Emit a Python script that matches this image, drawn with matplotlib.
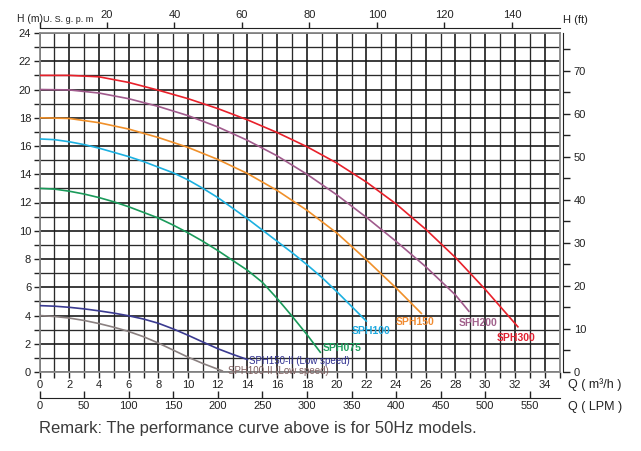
import matplotlib.pyplot as plt
from matplotlib.ticker import MultipleLocator

plt.rcParams['font.family'] = ['Liberation Sans', 'DejaVu Sans']

# flow Q (m3/h) and head H (m)
q_300 = [0, 2, 4, 6, 8, 10, 12, 14, 16, 18, 20, 22, 24, 26, 28, 30, 32.2]
h_300 = [21.0, 21.0, 20.9, 20.5, 19.95, 19.35, 18.65, 17.85, 16.95, 15.95, 14.8, 13.45, 11.9, 10.1, 8.1, 5.85, 3.2]

q_200 = [0, 2, 4, 6, 8, 10, 12, 14, 16, 18, 20, 22, 24, 26, 28, 28.9]
h_200 = [20.0, 19.97, 19.75, 19.35, 18.8, 18.15, 17.35, 16.4, 15.3, 14.0, 12.55, 10.95, 9.25, 7.45, 5.45, 4.3]

q_150 = [0, 2, 4, 6, 8, 10, 12, 14, 16, 18, 20, 22, 24, 25.7]
h_150 = [18.0, 17.95, 17.65, 17.2, 16.6, 15.9, 15.05, 14.05, 12.85, 11.45, 9.85, 7.95, 5.95, 4.15]

q_100 = [0, 1, 2, 3, 4, 5, 6, 7, 8, 9, 10, 11, 12, 13, 14, 15, 16, 17, 18, 19, 20, 21, 22]
h_100 = [16.5, 16.45, 16.3, 16.1, 15.85, 15.55, 15.25, 14.9, 14.5, 14.1, 13.6, 13.0, 12.35,
         11.6, 10.85, 10.05, 9.25, 8.45, 7.6, 6.7, 5.7, 4.65, 3.6]

q_075 = [0, 1, 2, 3, 4, 5, 6, 7, 8, 9, 10, 11, 12, 13, 14, 15, 16, 17, 18, 18.9]
h_075 = [13.0, 12.95, 12.8, 12.6, 12.35, 12.05, 11.7, 11.3, 10.9, 10.4, 9.85, 9.25, 8.6,
         7.9, 7.2, 6.35, 5.2, 3.95, 2.65, 1.4]

q_150ii = [0, 1, 2, 3, 4, 5, 6, 7, 8, 9, 10, 11, 12, 13, 14]
h_150ii = [4.7, 4.66, 4.58, 4.47, 4.33, 4.17, 3.98, 3.75, 3.45, 3.05, 2.6, 2.12, 1.65, 1.25, 0.88]

q_100ii = [0, 1, 2, 3, 4, 5, 6, 7, 8, 9, 10, 11, 12, 12.3]
h_100ii = [4.0, 3.93, 3.82, 3.65, 3.43, 3.17, 2.87, 2.5, 2.05, 1.55, 1.05, 0.6, 0.2, 0.08]

fig = plt.figure(figsize=(6.41, 4.51), dpi=100)
ax = fig.add_axes([39.5 / 641, 79 / 451, 520 / 641, 339 / 451])

ax.plot(q_300, h_300, color='#e8202a', lw=1.2, zorder=3)
ax.plot(q_200, h_200, color='#a05a8c', lw=1.2, zorder=3)
ax.plot(q_150, h_150, color='#f0902a', lw=1.2, zorder=3)
ax.plot(q_100, h_100, color='#1cb0e0', lw=1.2, zorder=3)
ax.plot(q_075, h_075, color='#1a9a5a', lw=1.2, zorder=3)
ax.plot(q_150ii, h_150ii, color='#3a3a90', lw=1.2, zorder=3)
ax.plot(q_100ii, h_100ii, color='#8a8080', lw=1.2, zorder=3)

lab = dict(fontsize=7.5, fontweight='bold', ha='center', va='center', zorder=4)
ax.text(32.1, 2.4, 'SPH300', color='#e02030', **lab)
ax.text(29.5, 3.5, 'SPH200', color='#a0608a', **lab)
ax.text(25.3, 3.55, 'SPH150', color='#f08a30', **lab)
ax.text(22.3, 2.9, 'SPH100', color='#20aae0', **lab)
ax.text(20.4, 1.7, 'SPH075', color='#20a060', **lab)
ax.text(14.1, 0.8, 'SPH150-II (Low speed)', color='#303090', fontsize=7,
        ha='left', va='center', zorder=4)
ax.text(12.7, 0.1, 'SPH100-II (Low speed)', color='#806060', fontsize=7,
        ha='left', va='center', zorder=4)

ax.set_xlim(0, 35)
ax.set_ylim(0, 24)
ax.set_xticks(range(0, 35, 2))
ax.xaxis.set_minor_locator(MultipleLocator(1))
ax.set_yticks(range(0, 25, 2))
ax.yaxis.set_minor_locator(MultipleLocator(1))
ax.tick_params(which='both', direction='out', length=4, width=1, colors='#222',
               labelsize=8, pad=2)
ax.grid(which='major', color='#1a1a1a', lw=1.2, zorder=0)
ax.grid(which='minor', color='#2a2a2a', lw=0.95, zorder=0)
ax.set_axisbelow(True)
for s in ax.spines.values():
    s.set_color('#888')
    s.set_linewidth(1.3)

# U.S. gpm on top
top = ax.secondary_xaxis(1 + 5 / 339, functions=(lambda q: q * 4.4029, lambda g: g / 4.4029))
top.set_xticks(range(0, 160, 20))
top.set_xticklabels([''] + [str(v) for v in range(20, 160, 20)])
top.tick_params(direction='out', length=4, width=1, colors='#222', labelsize=8, pad=2)
top.spines['top'].set_color('#222')

# LPM below
lpm = ax.secondary_xaxis(-26 / 339, functions=(lambda q: q * 1000 / 60, lambda l: l * 60 / 1000))
lpm.set_xticks(range(0, 600, 50))
lpm.tick_params(direction='in', length=5, width=1, colors='#222', labelsize=8, pad=2)
lpm.spines['bottom'].set_color('#222')

# H in feet on the right
rgt = ax.secondary_yaxis(1 + 3 / 520, functions=(lambda h: h / 0.3048, lambda f: f * 0.3048))
rgt.set_yticks(range(0, 80, 10))
rgt.yaxis.set_minor_locator(MultipleLocator(5))
rgt.tick_params(which='both', direction='out', length=5, width=1, colors='#222',
                labelsize=8, pad=3)
rgt.spines['right'].set_color('#222')

fig.text(17 / 641, 1 - 19 / 451, 'H (m)', fontsize=7.5, color='#222', va='center')
fig.text(43 / 641, 1 - 19 / 451, 'U. S. g. p. m', fontsize=6.5, color='#222', va='center')
fig.text(563 / 641, 1 - 20 / 451, 'H (ft)', fontsize=8, color='#222', va='center')
fig.text(568 / 641, 1 - 385 / 451, 'Q ( m³/h )', fontsize=9, color='#222', va='center')
fig.text(568 / 641, 1 - 407 / 451, 'Q ( LPM )', fontsize=9, color='#222', va='center')
fig.text(39 / 641, 1 - 428 / 451, 'Remark: The performance curve above is for 50Hz models.',
         fontsize=12, color='#3a3a3a', va='center')

fig.savefig('out.png', dpi=100)
